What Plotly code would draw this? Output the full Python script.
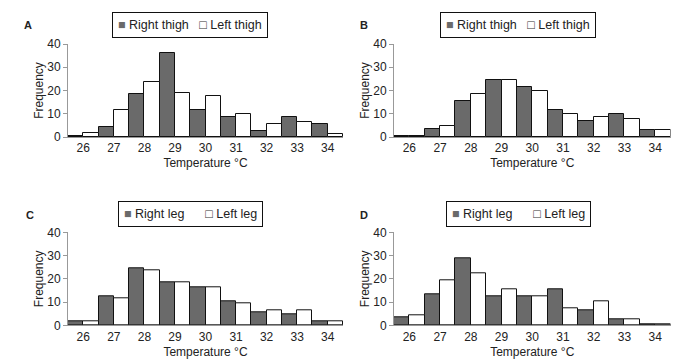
import plotly.graph_objects as go

temps = [26, 27, 28, 29, 30, 31, 32, 33, 34]

a_right = [0.5, 4.5, 18.5, 36, 11.5, 8.5, 2.5, 8.5, 5.5]
a_left = [1.7, 11.5, 23.5, 19, 17.5, 9.7, 5.5, 6.3, 1.2]
b_right = [0.6, 3.3, 15.5, 24.5, 21.5, 11.5, 6.8, 9.8, 2.8]
b_left = [0.5, 4.6, 18.5, 24.5, 19.7, 9.8, 8.5, 7.6, 2.8]
c_right = [1.7, 12.5, 24.5, 18.5, 16.3, 10.4, 5.6, 4.7, 1.7]
c_left = [1.7, 11.6, 23.7, 18.5, 16.3, 9.5, 6.5, 6.5, 1.7]
d_right = [3.4, 13.4, 28.8, 12.5, 12.5, 15.5, 6.5, 2.6, 0.4]
d_left = [4.3, 19.4, 22.4, 15.5, 12.5, 7.4, 10.4, 2.6, 0.3]

panels = [
    ("A", a_right, a_left, "Right thigh", "Left thigh"),
    ("B", b_right, b_left, "Right thigh", "Left thigh"),
    ("C", c_right, c_left, "Right leg", "Left leg"),
    ("D", d_right, d_left, "Right leg", "Left leg"),
]

W, H = 700, 364
OFF = 8  # page body margin offset

def px(x):
    return (x - OFF) / W

def py(y):
    return 1 - (y - OFF) / H

# pixel geometry per panel: (x0, x1, y_top(40), y_bottom(0))
geo = [
    (68, 343, 44, 137),
    (394, 670.5, 44, 137),
    (68, 343, 232.3, 325.3),
    (394, 670.5, 232.3, 325.3),
]
legend_center = [(190, 25), (518, 25), (190, 214), (518, 214)]
label_pos = [(28, 25), (364, 25), (30, 215), (364, 215)]

FONT = "Liberation Sans, Arial, sans-serif"
DARK = "#6a6a6a"
TXT = "#222"

fig = go.Figure()
layout = dict(
    width=W, height=H,
    margin=dict(l=0, r=0, t=0, b=0, autoexpand=False),
    paper_bgcolor="white", plot_bgcolor="white",
    barmode="group", bargap=0, bargroupgap=0,
    font=dict(family=FONT, size=12, color=TXT),
    showlegend=False,
    annotations=[],
)

for i, (lab, right, left, rname, lname) in enumerate(panels):
    n = i + 1
    xa = "x" if n == 1 else f"x{n}"
    ya = "y" if n == 1 else f"y{n}"
    fig.add_trace(go.Bar(x=temps, y=right, name=rname, xaxis=xa, yaxis=ya,
                         marker=dict(color=DARK, line=dict(color="#111", width=1)),
                         offsetgroup="r"))
    fig.add_trace(go.Bar(x=temps, y=left, name=lname, xaxis=xa, yaxis=ya,
                         marker=dict(color="white", line=dict(color="#111", width=1)),
                         offsetgroup="l"))
    x0, x1, yt, yb = geo[i]
    xkey = "xaxis" if n == 1 else f"xaxis{n}"
    ykey = "yaxis" if n == 1 else f"yaxis{n}"
    layout[xkey] = dict(
        domain=[px(x0), px(x1)], anchor=ya, range=[25.5, 34.5],
        tickvals=temps, ticktext=[str(t) for t in temps],
        showline=True, linecolor="#999", linewidth=1, ticks="",
        showgrid=False, zeroline=False, automargin=False,
        tickfont=dict(size=12, color=TXT),
        title=dict(text="Temperature °C", font=dict(size=12, color=TXT), standoff=4),
    )
    layout[ykey] = dict(
        domain=[py(yb), py(yt)], anchor=xa, range=[0, 40],
        tickvals=[0, 10, 20, 30, 40],
        showline=True, linecolor="#999", linewidth=1,
        ticks="outside", ticklen=4, tickcolor="#999",
        showgrid=False, zeroline=False, automargin=False,
        tickfont=dict(size=12, color=TXT),
        title=dict(text="Frequency", font=dict(size=12, color=TXT), standoff=1),
    )
    gap = "&nbsp;&nbsp;&nbsp;" if "thigh" in rname else "&nbsp;&nbsp;&nbsp;&nbsp;&nbsp;&nbsp;"
    lx, ly = legend_center[i]
    layout["annotations"].append(dict(
        text=(f"<span style='color:{DARK}'>■</span>&nbsp;{rname}{gap}"
              f"<span style='color:#333'>□</span>&nbsp;{lname}"),
        x=px(lx), y=py(ly), xref="paper", yref="paper",
        showarrow=False, xanchor="center", yanchor="middle",
        bordercolor="#111", borderwidth=1, borderpad=5, bgcolor="white",
        font=dict(size=12.5, color=TXT, family=FONT),
    ))
    lpx, lpy = label_pos[i]
    layout["annotations"].append(dict(
        text=f"<b>{lab}</b>", x=px(lpx), y=py(lpy), xref="paper", yref="paper",
        showarrow=False, xanchor="center", yanchor="middle",
        font=dict(size=11, color=TXT),
    ))

fig.update_layout(**layout)
fig.write_html("out.html")
